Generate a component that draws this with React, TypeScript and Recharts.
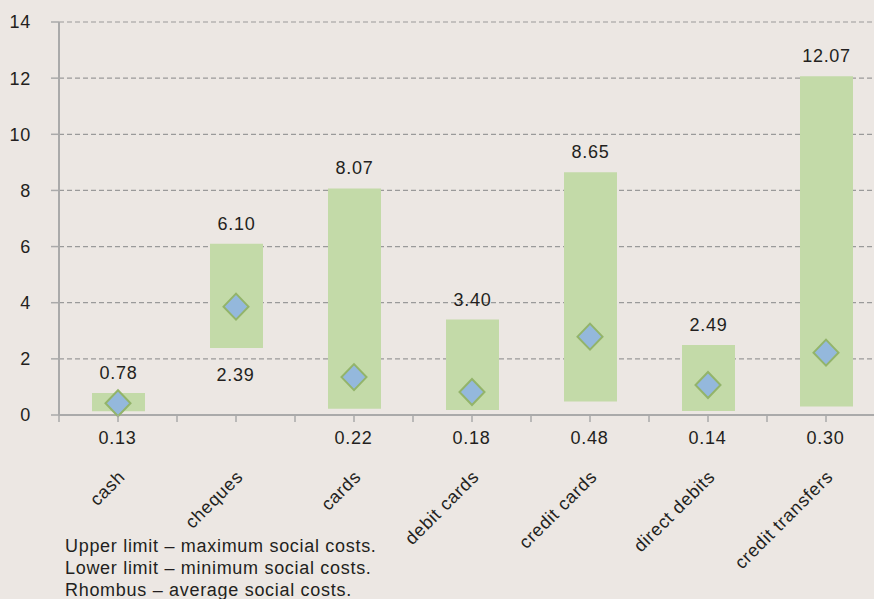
import React from 'react';
import { ComposedChart, Bar, Line, XAxis, YAxis, CartesianGrid, LabelList } from 'recharts';

const categories = ['cash', 'cheques', 'cards', 'debit cards', 'credit cards', 'direct debits', 'credit transfers'];
const lowerLimits = [0.13, 2.39, 0.22, 0.18, 0.48, 0.14, 0.30];
const upperLimits = [0.78, 6.10, 8.07, 3.40, 8.65, 2.49, 12.07];
const averages = [0.42, 3.86, 1.35, 0.82, 2.79, 1.07, 2.22];
const yTicks = [0, 2, 4, 6, 8, 10, 12, 14];
const notes = [
  'Upper limit – maximum social costs.',
  'Lower limit – minimum social costs.',
  'Rhombus – average social costs.',
];

const data = categories.map((name, i) => ({
  name,
  low: lowerLimits[i],
  high: upperLimits[i],
  avg: averages[i],
}));

const FONT = '"Liberation Sans", Arial, Helvetica, sans-serif';
const TEXT = '#231f20';
const AXIS = '#aaaaaa';

const fmt = (v: number) => v.toFixed(2);

const UpperLabel = (props: any) => {
  const { x, y, width, height, index } = props;
  const top = Math.min(y, y + height);
  return (
    <text x={x + width / 2} y={top - 14} textAnchor="middle" fontSize={18} fill={TEXT} fontFamily={FONT}>
      {fmt(data[index].high)}
    </text>
  );
};

const LowerLabel = (props: any) => {
  const { x, y, width, height, index } = props;
  const top = Math.min(y, y + height);
  const bottom = Math.max(y, y + height);
  const d = data[index];
  const pxPerUnit = (bottom - top) / (d.high - d.low);
  const axisY = bottom + d.low * pxPerUnit;
  let base = bottom + 33;
  if (base > axisY) base = axisY + 28.5;
  return (
    <text x={x + width / 2 - 1} y={base} textAnchor="middle" fontSize={18} fill={TEXT} fontFamily={FONT}>
      {fmt(d.low)}
    </text>
  );
};

const CategoryTick = (props: any) => {
  const { x, y, payload, index } = props;
  const off = payload && payload.offset ? payload.offset : 59;
  const last = index === categories.length - 1;
  return (
    <g>
      <line x1={x} x2={x} y1={y} y2={y + 7} stroke={AXIS} strokeWidth={1.5} />
      <line x1={x - off} x2={x - off} y1={y} y2={y + 7} stroke={AXIS} strokeWidth={1.5} />
      {last && <line x1={x + off} x2={x + off} y1={y} y2={y + 7} stroke={AXIS} strokeWidth={1.5} />}
      <text
        x={x + 8}
        y={y + 63}
        textAnchor="end"
        fontSize={18}
        fill={TEXT}
        fontFamily={FONT}
        transform={`rotate(-45, ${x + 8}, ${y + 63})`}
      >
        {payload.value}
      </text>
    </g>
  );
};

const Diamond = (props: any) => {
  const { cx, cy } = props;
  if (cx == null || cy == null) return null;
  const w = 12.5;
  const h = 13;
  return (
    <polygon
      points={`${cx},${cy - h} ${cx + w},${cy} ${cx},${cy + h} ${cx - w},${cy}`}
      fill="#94b8dc"
      stroke="#93b46a"
      strokeWidth={2}
    />
  );
};

export default function App() {
  return (
    <div
      style={{
        position: 'absolute',
        left: 0,
        top: 0,
        width: 874,
        height: 599,
        overflow: 'hidden',
        background: '#ece7e3',
        fontFamily: FONT,
        letterSpacing: '0.7px',
      }}
    >
      <ComposedChart
        width={900}
        height={599}
        data={data}
        margin={{ top: 22, right: 15, bottom: 0, left: 0 }}
      >
        <CartesianGrid vertical={false} stroke="#9a9a9a" strokeDasharray="5 3" strokeWidth={1.2} />
        <XAxis
          dataKey="name"
          height={184}
          interval={0}
          tickLine={false}
          tickSize={0}
          tickMargin={0}
          axisLine={{ stroke: AXIS, strokeWidth: 2 }}
          tick={<CategoryTick />}
        />
        <YAxis
          width={59}
          domain={[0, 14]}
          ticks={yTicks}
          interval={0}
          tickSize={8}
          tickMargin={20}
          axisLine={{ stroke: AXIS, strokeWidth: 2 }}
          tickLine={{ stroke: AXIS, strokeWidth: 1.5 }}
          tick={{ fontSize: 18, fill: TEXT, fontFamily: FONT }}
        />
        <Bar dataKey={(d: any) => [d.low, d.high]} barSize={53} fill="#c3daa8" isAnimationActive={false}>
          <LabelList dataKey="high" content={<UpperLabel />} />
          <LabelList dataKey="low" content={<LowerLabel />} />
        </Bar>
        <Line
          dataKey="avg"
          stroke="none"
          dot={<Diamond />}
          activeDot={false}
          isAnimationActive={false}
          legendType="none"
        />
      </ComposedChart>
      <div
        style={{
          position: 'absolute',
          left: 65,
          top: 535,
          fontSize: 18,
          lineHeight: '22px',
          color: TEXT,
          whiteSpace: 'nowrap',
        }}
      >
        {notes.map((n) => (
          <div key={n}>{n}</div>
        ))}
      </div>
    </div>
  );
}
